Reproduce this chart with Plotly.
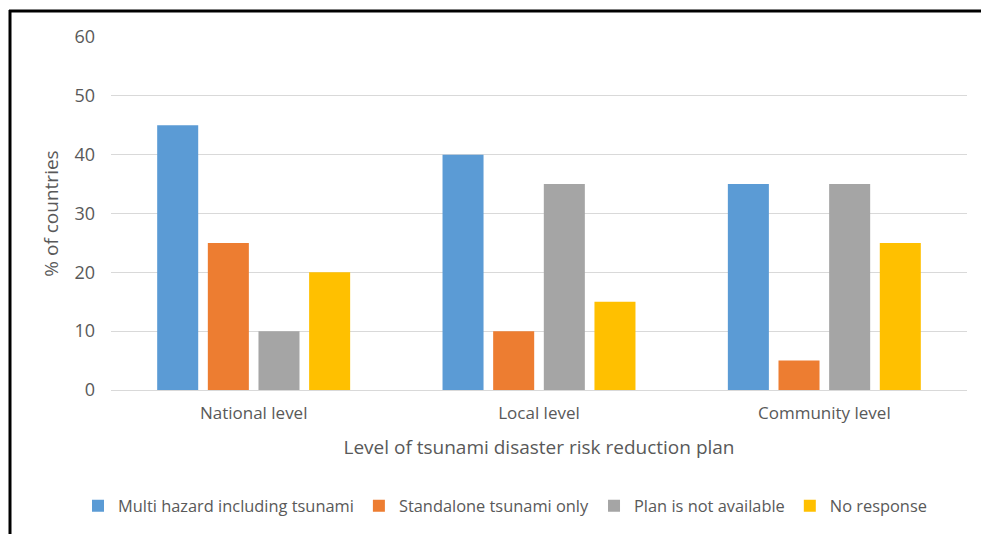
import plotly.graph_objects as go

categories = ["National level", "Local level", "Community level"]
series_names = ["Multi hazard including tsunami", "Standalone tsunami only",
                "Plan is not available", "No response"]
multi_hazard = [45, 40, 35]
standalone = [25, 10, 5]
not_available = [10, 35, 35]
no_response = [20, 15, 25]
colors = ["#5B9BD5", "#ED7D31", "#A5A5A5", "#FFC000"]

values = [multi_hazard, standalone, not_available, no_response]

fig = go.Figure()
for name, vals, col in zip(series_names, values, colors):
    fig.add_trace(go.Bar(x=categories, y=vals, name=name, marker_color=col,
                         marker_line_width=0))

font_fam = "Open Sans, Noto Sans, sans-serif"
W, H = 981, 534
L, R, T, B = 111, 14, 37, 144
pw, ph = W - L - R, H - T - B

def px(x):
    return (x - L) / pw

def py(y):
    return (H - B - y) / ph

fig.update_layout(
    width=W, height=H,
    margin=dict(l=L, r=R, t=T, b=B, autoexpand=False),
    paper_bgcolor="white", plot_bgcolor="white",
    barmode="group", bargap=0.29, bargroupgap=0.19,
    font=dict(family=font_fam, color="#595959", size=17),
    yaxis=dict(range=[0, 60], dtick=10, showgrid=True, gridcolor="#D9D9D9",
               gridwidth=1, zeroline=True, zerolinecolor="#D9D9D9",
               zerolinewidth=1, showline=False, ticks="", ticklen=0,
               ticklabelstandoff=15,
               tickfont=dict(size=18, color="#595959"),
               title=dict(text="% of countries", font=dict(size=19, color="#595959"),
                          standoff=10)),
    xaxis=dict(showline=False, ticks="", showgrid=False,
               ticklabelstandoff=11,
               tickfont=dict(size=17, color="#595959"),
               title=dict(text="Level of tsunami disaster risk reduction plan",
                          font=dict(size=19, color="#595959"), standoff=17)),
    legend=dict(orientation="h", xref="container", yref="container",
                x=505 / W, xanchor="center", y=1 - 506 / H,
                yanchor="middle", font=dict(size=16.4, color="#595959"),
                itemwidth=30, traceorder="normal"),
    shapes=[
        dict(type="line", xref="paper", yref="paper", x0=px(9), x1=px(981),
             y0=py(11), y1=py(11), line=dict(color="black", width=3)),
        dict(type="line", xref="paper", yref="paper", x0=px(10), x1=px(10),
             y0=py(10), y1=py(534), line=dict(color="black", width=3)),
    ],
)

fig.write_html("out.html")
